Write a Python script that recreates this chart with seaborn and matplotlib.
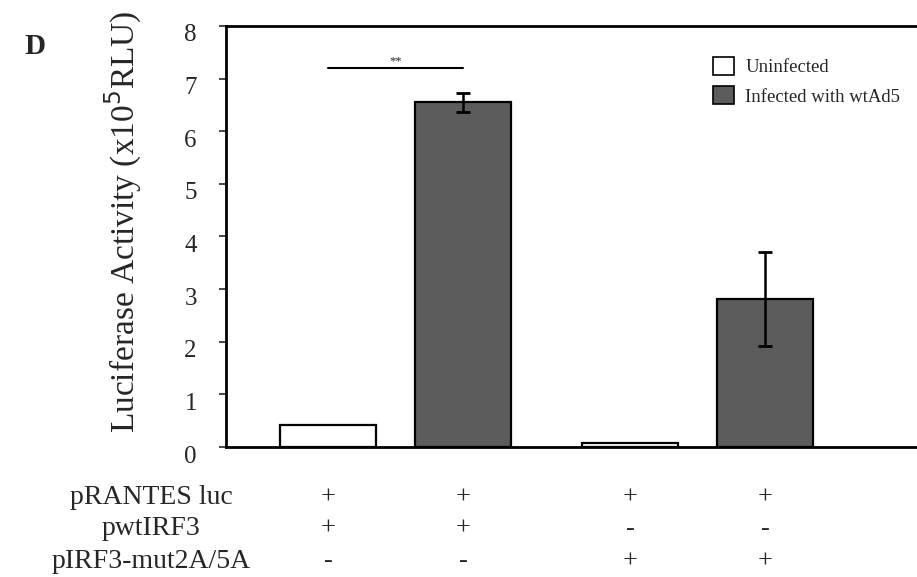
import matplotlib
matplotlib.use("Agg")
import pandas as pd
import matplotlib.pyplot as plt
import matplotlib.transforms as mtransforms
import seaborn as sns
from matplotlib.patches import Rectangle, Patch

# data (x10^5 RLU)
constructs = ["pwtIRF3", "pwtIRF3", "pIRF3-mut2A/5A", "pIRF3-mut2A/5A"]
infection = ["Uninfected", "Infected with wtAd5", "Uninfected", "Infected with wtAd5"]
activity = [0.42, 6.55, 0.08, 2.81]
sd = [0.0, 0.18, 0.0, 0.9]

row_names = ["pRANTES luc", "pwtIRF3", "pIRF3-mut2A/5A"]
row_signs = [["+", "+", "+", "+"],
             ["+", "+", "-", "-"],
             ["-", "-", "+", "+"]]

colors = {"Uninfected": "white", "Infected with wtAd5": "#5c5c5c"}

df = pd.DataFrame({"construct": constructs, "infection": infection,
                   "activity": activity, "sd": sd})

sns.set_style("white")
plt.rcParams["font.family"] = ["Liberation Serif", "DejaVu Serif"]

fig = plt.figure(figsize=(9.17, 5.77), dpi=100)
ax = fig.add_axes([0.2465, 0.2253, 0.7535, 0.7297])

sns.barplot(data=df, x="construct", y="activity", hue="infection",
            palette=colors, edgecolor="black", linewidth=1.6,
            width=0.894, gap=0.295, errorbar=None, ax=ax, legend=False)

# bar centres in display order (same order as the data lists)
bars = [p for p in ax.patches if isinstance(p, Rectangle) and p.get_height() > 0]
bars = sorted(bars, key=lambda p: p.get_x())
xc = [b.get_x() + b.get_width() / 2 for b in bars]

for x, v, e in zip(xc, activity, sd):
    if e > 0:
        ax.errorbar(x, v, yerr=e, color="black", elinewidth=1.8,
                    capsize=5, capthick=2, fmt="none", zorder=5)

# significance bracket
ax.plot([xc[0], xc[1]], [7.2, 7.2], color="black", lw=1.5)
ax.text((xc[0] + xc[1]) / 2, 7.22, "**", ha="center", va="bottom", fontsize=9)

ax.set_xlim(-0.561, 1.727)
ax.set_ylim(0, 8)
ax.set_yticks(range(0, 9))
ax.tick_params(axis="y", labelsize=18, length=5, width=1.2, direction="out",
               left=True, pad=16)
ax.set_xticks([])
ax.set_xlabel("")
# tick numbers sit a little below their ticks in the original
shift = mtransforms.ScaledTranslation(0, -0.07, fig.dpi_scale_trans)
for lab in ax.get_yticklabels():
    lab.set_transform(lab.get_transform() + shift)

ax.set_ylabel("Luciferase Activity (x10$^5$RLU)", fontsize=24)
ax.yaxis.set_label_coords(-0.119, 0.535)

for s in ["left", "top", "bottom"]:
    ax.spines[s].set_color("black")
    ax.spines[s].set_linewidth(2)
ax.spines["right"].set_visible(False)

handles = [Patch(facecolor=c, edgecolor="black", linewidth=1.2, label=k)
           for k, c in colors.items()]
ax.legend(handles=handles, loc="upper left", bbox_to_anchor=(0.681, 0.967),
          frameon=False, fontsize=13.5, handlelength=1.1, handleheight=1.1,
          handletextpad=0.6, labelspacing=0.55)

# treatment table under the axis
row_y = [0.1386, 0.0832, 0.0277]
for name, signs, y in zip(row_names, row_signs, row_y):
    fig.text(0.1647, y, name, ha="center", va="center", fontsize=20)
    for x, s in zip(xc, signs):
        xf = fig.transFigure.inverted().transform(ax.transData.transform((x, 0)))[0]
        fig.text(xf, y, s, ha="center", va="center", fontsize=19)

fig.text(0.027, 0.92, "D", fontsize=21, fontweight="bold", ha="left", va="center")

fig.savefig("out.png", dpi=100)
